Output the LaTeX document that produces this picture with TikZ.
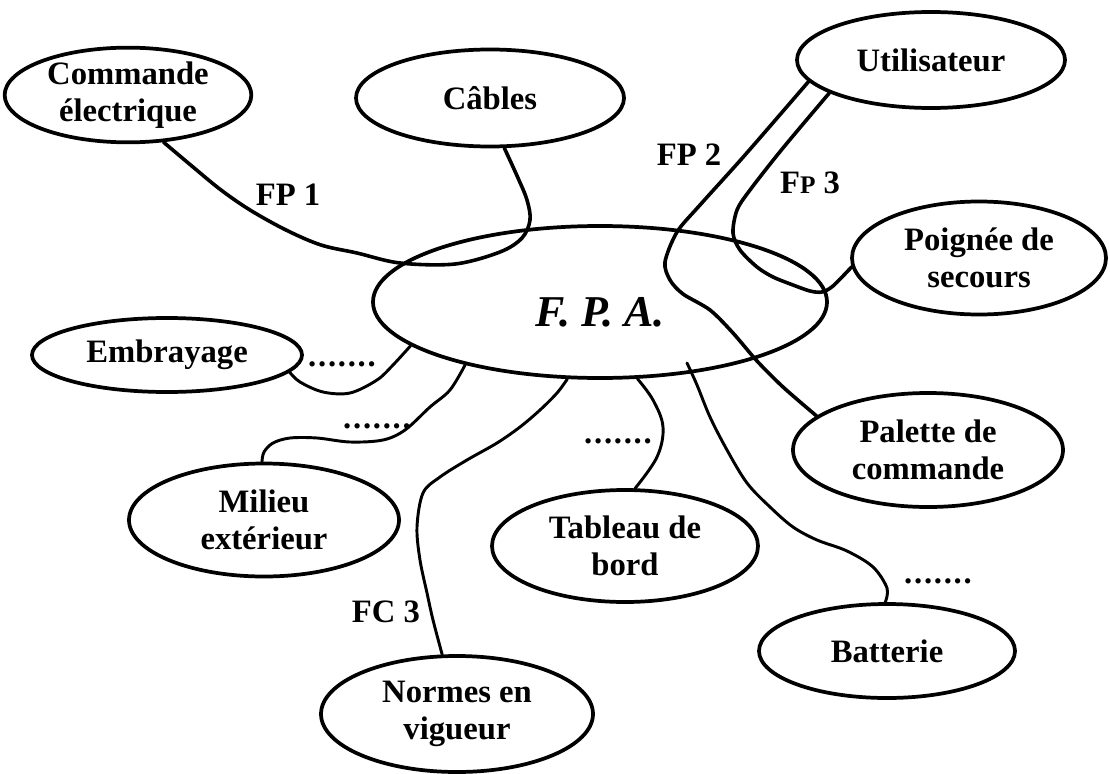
\documentclass[tikz,border=0pt]{standalone}
\usepackage{fontspec}
\setmainfont{Liberation Serif}
\usetikzlibrary{shapes.geometric}
\newcommand\ellfont{\bfseries\fontsize{24.5}{28}\selectfont}
\newcommand\sevendots{.\kern1.3pt.\kern1.3pt.\kern1.3pt.\kern1.3pt.\kern1.3pt.\kern1.3pt.}
\begin{document}
\begin{tikzpicture}[x=0.75pt,y=-0.75pt,
  ell/.style={draw, ellipse, line width=2.8pt, inner sep=0pt, align=center, font=\ellfont},
  conn/.style={line width=2.7pt, line cap=round, line join=round},
  thinconn/.style={line width=2.2pt, line cap=round, line join=round},
  funclbl/.style={font=\ellfont, inner sep=0pt},
  dotlbl/.style={font=\ellfont, inner sep=0pt}]
\useasboundingbox (0,0) rectangle (1110,774);

% surrounding elements
\node[ell, minimum width=185pt, minimum height=64.5pt] (cmd) at (128,95) {Commande\\électrique};
\node[ell, minimum width=201pt, minimum height=72.75pt] (cab) at (490,98) {Câbles};
\node[ell, minimum width=201pt, minimum height=72pt] (usr) at (931,60) {Utilisateur};
\node[ell, minimum width=190.5pt, minimum height=84.75pt] (poi) at (979,258) {Poignée de\\secours};
\node[ell, minimum width=202.5pt, minimum height=55.5pt] (emb) at (167,355) {Embrayage};
\node[ell, minimum width=202.5pt, minimum height=84.75pt] (mil) at (264,520) {Milieu\\extérieur};
\node[ell, minimum width=199.5pt, minimum height=84pt] (tab) at (625,546) {Tableau de\\bord};
\node[ell, minimum width=204pt, minimum height=87pt] (nor) at (457,714) {Normes en\\vigueur};
\node[ell, minimum width=202.5pt, minimum height=85.5pt] (pal) at (928,450) {Palette de\\commande};
\node[ell, minimum width=192pt, minimum height=70.5pt] (bat) at (887,651) {Batterie};

% the product itself
\node[ell, minimum width=340.5pt, minimum height=114pt,
      font=\bfseries\itshape\fontsize{33}{38}\selectfont] (fpa) at (600,302)
      {\raisebox{-7.5pt}[\height][\depth]{F. P. A.}};

% FP1: commande -> F.P.A. -> cables
\draw[conn] plot[smooth, tension=0.55] coordinates {(cmd.-53) (193,167) (221,190) (250,210) (286,230) (321,245) (357,253) (400,263) (455,264) (500,252) (522,238) (530,220) (527,200) (518,178) (cab.-74)};

% FP2: utilisateur -> F.P.A. -> palette
\draw[conn] plot[smooth, tension=0.5] coordinates {(usr.190) (745,155) (700,205) (677,232) (665,262) (670,280) (683,294) (710,310) (733,333) (757,361) (783,387) (pal.163)};

% FP3: utilisateur -> F.P.A. -> poignee
\draw[conn] plot[smooth, tension=0.5] coordinates {(usr.198) (783,148) (750,190) (737,210) (733,233) (740,250) (757,267) (773,277) (793,285) (810,291) (822,292) (833,286) (poi.184)};

% embrayage
\draw[thinconn] plot[smooth, tension=0.55] coordinates {(emb.-8) (300,382) (323,392) (350,393) (377,380) (393,365) (fpa.193)};

% milieu exterieur
\draw[thinconn] plot[smooth, tension=0.55] coordinates {(mil.92) (264,452) (273,443) (290,438) (317,438) (350,442) (383,440) (405,430) (430,407) (450,390) (fpa.205)};

% normes en vigueur
\draw[thinconn] plot[smooth, tension=0.55] coordinates {(nor.104) (433,620) (427,593) (420,560) (417,527) (423,493) (440,477) (467,460) (497,443) (520,427) (540,410) (557,393) (fpa.247)};

% tableau de bord
\draw[thinconn] plot[smooth, tension=0.6] coordinates {(tab.80) (657,457) (663,427) (653,400) (fpa.296)};

% batterie
\coordinate (batstart) at (687,363);
\draw[thinconn] plot[smooth, tension=0.55] coordinates {(batstart) (697,385) (710,417) (727,450) (747,483) (770,507) (793,527) (817,540) (847,551) (873,567) (887,588) (bat.92)};

% function labels
\node[funclbl] (fp1) at (288,195) {FP 1};
\node[funclbl] (fp2) at (689,155) {FP 2};
\node[funclbl] (fp3) at (810,183) {F{\fontsize{19}{19}\selectfont P} 3};
\node[funclbl] (fc3) at (386,612) {FC 3};

% open functions
\node[dotlbl] (dotsemb) at (342,364) {\sevendots};
\node[dotlbl] (dotsmil) at (377,426) {\sevendots};
\node[dotlbl] (dotstab) at (618,441) {\sevendots};
\node[dotlbl] (dotsbat) at (938,581) {\sevendots};
\end{tikzpicture}
\end{document}
